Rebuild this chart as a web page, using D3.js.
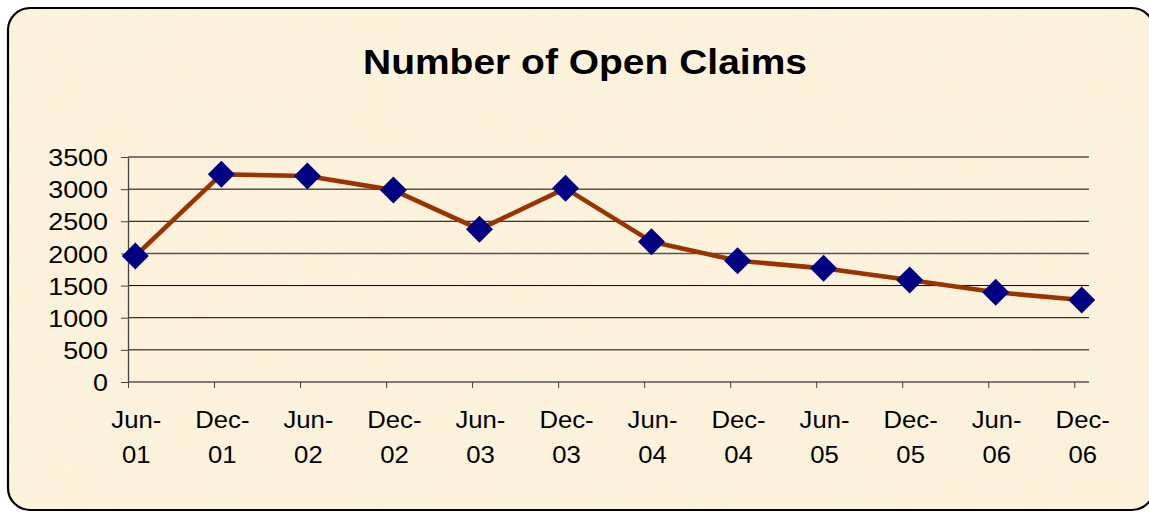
<!DOCTYPE html>
<html>
<head>
<meta charset="utf-8">
<script src="https://cdn.jsdelivr.net/npm/d3@7"></script>
<style>
  body { margin: 0; background: #fff; }
  text { font-family: "Liberation Sans", Arial, sans-serif; fill: #000; }
</style>
</head>
<body>
<script>
const periods = ['Jun-01', 'Dec-01', 'Jun-02', 'Dec-02', 'Jun-03', 'Dec-03',
    'Jun-04', 'Dec-04', 'Jun-05', 'Dec-05', 'Jun-06', 'Dec-06']
const openClaims = [1960, 3230, 3205, 2985, 2375, 3012, 2183, 1887, 1768, 1587, 1395, 1276]
const yTicks = [0, 500, 1000, 1500, 2000, 2500, 3000, 3500]

const m = {
    width: 1149,
    height: 512
}

const svg = d3.select('body').append('svg')
    .attr('width', m.width)
    .attr('height', m.height)

// parchment texture
const defs = svg.append('defs')
const f = defs.append('filter').attr('id', 'paper')
    .attr('x', 0).attr('y', 0).attr('width', '100%').attr('height', '100%')
f.append('feTurbulence')
    .attr('type', 'fractalNoise')
    .attr('baseFrequency', '0.012 0.02')
    .attr('numOctaves', 3)
    .attr('seed', 7)
f.append('feColorMatrix')
    .attr('type', 'matrix')
    .attr('values', '0 0 0 0 0.96  0 0 0 0 0.89  0 0 0 0 0.72  0 0 0 1.1 -0.3')
f.append('feComposite').attr('in2', 'SourceGraphic').attr('operator', 'in')

svg.append('rect')
    .attr('x', 8).attr('y', 8)
    .attr('width', 1146).attr('height', 502)
    .attr('rx', 22)
    .attr('fill', '#fdf2dc')
svg.append('rect')
    .attr('x', 8).attr('y', 8)
    .attr('width', 1146).attr('height', 502)
    .attr('rx', 22)
    .attr('fill', '#fdf2dc')
    .attr('filter', 'url(#paper)')
    .attr('opacity', 0.7)
svg.append('rect')
    .attr('x', 8).attr('y', 8)
    .attr('width', 1146).attr('height', 502)
    .attr('rx', 22)
    .attr('fill', 'none')
    .attr('stroke', '#000')
    .attr('stroke-width', 2.2)

svg.append('text')
    .attr('x', 585)
    .attr('y', 74)
    .attr('text-anchor', 'middle')
    .attr('textLength', 444)
    .attr('lengthAdjust', 'spacingAndGlyphs')
    .style('font-size', '35px')
    .style('font-weight', 'bold')
    .text('Number of Open Claims')

const x = d3.scalePoint()
    .domain(periods)
    .range([135.3, 1081.7])

// category tick marks sit a bit left of the points, as in the original
const xTick = x.copy().range([128, 1074.3])

const y = d3.scaleLinear()
    .domain([0, 3500])
    .range([382, 157])

const g = svg.append('g')

// gridlines
g.selectAll('.grid')
    .data(yTicks.filter(d => d > 0))
    .enter()
    .append('line')
    .attr('x1', 128)
    .attr('x2', 1089)
    .attr('y1', d => y(d))
    .attr('y2', d => y(d))
    .attr('stroke', d => d === 2000 ? '#555' : '#000')
    .attr('stroke-width', d => d === 2000 ? 1.4 : 1)

// y axis
const yAxis = g.append('g')
    .attr('transform', 'translate(128,0)')
    .call(d3.axisLeft(y).tickValues(yTicks).tickFormat(d3.format('d'))
        .tickSize(7).tickSizeOuter(0))
yAxis.select('.domain').attr('stroke', '#444').attr('stroke-width', 1.3)
yAxis.selectAll('.tick line').attr('stroke', '#444')
yAxis.selectAll('text')
    .style('font-size', '24px')
    .attr('x', -20 / 1.12)
    .attr('dy', '0.36em')
    .attr('transform', 'scale(1.12,1)')

// x axis
const xAxis = g.append('g')
    .attr('transform', 'translate(0,382)')
    .call(d3.axisBottom(xTick).tickSize(6).tickFormat('').tickSizeOuter(0))
xAxis.select('.domain').attr('d', 'M128,0H1089').attr('stroke', '#555').attr('stroke-width', 1.6)
xAxis.selectAll('.tick line').attr('stroke', '#444')

const labels = g.selectAll('.xlabel')
    .data(periods)
    .enter()
    .append('text')
    .attr('text-anchor', 'middle')
    .attr('transform', d => 'translate(' + (x(d) + 1) + ',0) scale(1.07,1)')
    .style('font-size', '24px')
labels.append('tspan')
    .attr('x', 0)
    .attr('y', 428)
    .text(d => d.split('-')[0] + '-')
labels.append('tspan')
    .attr('x', 0)
    .attr('y', 463)
    .text(d => d.split('-')[1])

// series line
const line = d3.line()
    .x((d, i) => x(periods[i]))
    .y(d => y(d))

g.append('path')
    .datum(openClaims)
    .attr('d', line)
    .attr('fill', 'none')
    .attr('stroke', '#993300')
    .attr('stroke-width', 4.6)
    .attr('stroke-linejoin', 'round')

g.selectAll('.marker')
    .data(openClaims)
    .enter()
    .append('path')
    .attr('d', 'M0,-13.5L13.5,0L0,13.5L-13.5,0Z')
    .attr('transform', (d, i) => 'translate(' + x(periods[i]) + ',' + y(d) + ')')
    .attr('fill', '#000080')
</script>
</body>
</html>
